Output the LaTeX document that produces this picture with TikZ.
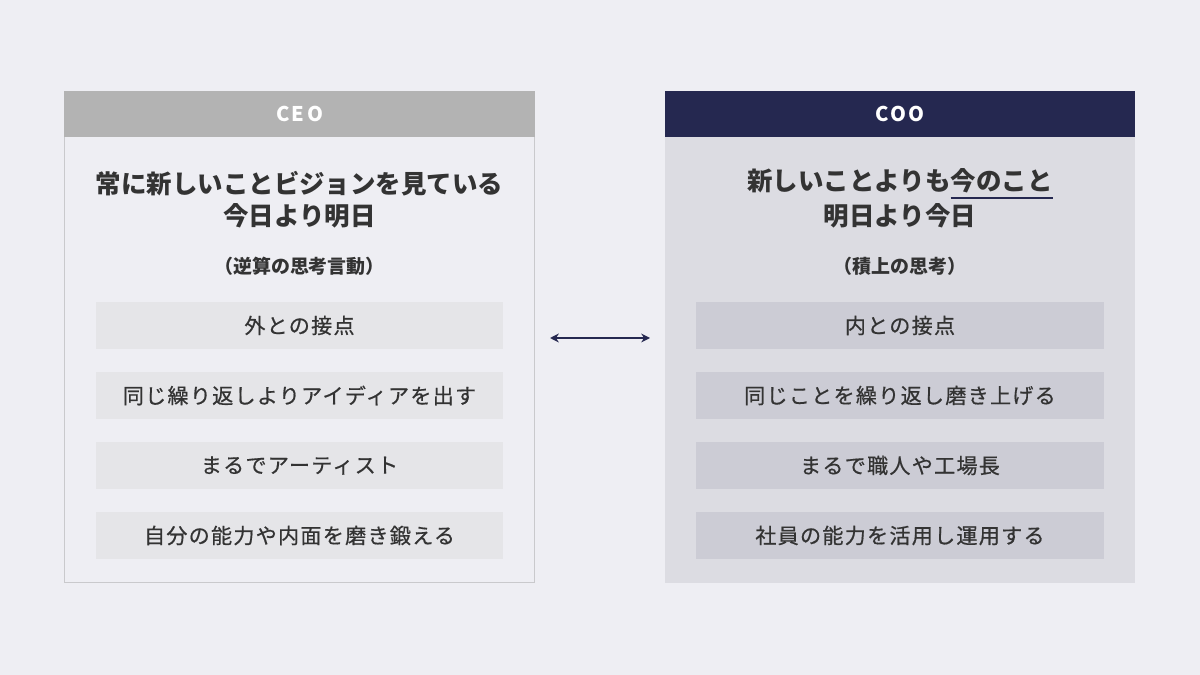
\documentclass[tikz,border=0pt]{standalone}
\usepackage{fontspec}
\setmainfont{Noto Sans CJK JP}
\newfontfamily\headfont[LetterSpace=12]{Noto Sans CJK JP}
\newfontfamily\itemfont[LetterSpace=6,FakeBold=0.6]{Noto Sans CJK JP}
\usetikzlibrary{arrows.meta}
\usetikzlibrary{positioning}

\definecolor{pagebg}{HTML}{EEEEF3}
\definecolor{inkgray}{HTML}{333333}
\definecolor{ceogray}{HTML}{B3B3B3}
\definecolor{ceoline}{HTML}{C9C9CC}
\definecolor{ceoitem}{HTML}{E5E5E8}
\definecolor{coonavy}{HTML}{252850}
\definecolor{coobody}{HTML}{DCDCE2}
\definecolor{cooitem}{HTML}{CCCCD5}

\newcommand\markline[1]{\setbox0\hbox{#1}\rlap{\color{coonavy}\rule[-5pt]{\wd0}{1.2pt}}\box0}

\tikzset{
  panel/.style={rectangle,minimum width=9.42cm,minimum height=9.84cm,inner sep=0pt},
  header/.style={rectangle,minimum width=9.42cm,minimum height=0.92cm,inner sep=0pt,
    text=white,font=\headfont\bfseries\fontsize{11.5}{12}\selectfont},
  title/.style={text=inkgray,font=\bfseries\fontsize{14.5}{16}\selectfont,inner sep=0pt},
  subtitle/.style={text=inkgray,font=\bfseries\fontsize{10.8}{12}\selectfont,inner sep=0pt},
  itembox/.style={rectangle,minimum width=8.16cm,minimum height=0.94cm,inner sep=0pt,
    text=inkgray,font=\itemfont\fontsize{12}{13}\selectfont},
  link/.style={draw=coonavy,line width=1.1pt,{Stealth[length=5pt,width=5pt]}-{Stealth[length=5pt,width=5pt]}}
}

\begin{document}
\begin{tikzpicture}[x=0.02cm,y=-0.02cm]

  \fill [pagebg] (0,0) rectangle (1200,675);

  % CEO side
  \node [panel,fill=pagebg,draw=ceoline,line width=0.6pt] (ceo) at (299.5,337) {};
  \node [header,fill=ceogray,anchor=north] (ceohead) at (ceo.north) {CEO};
  \node [title] (ceot1) at (299.5,184) {常に新しいことビジョンを見ている};
  \node [title] (ceot2) at (299.5,216) {今日より明日};
  \node [subtitle] (ceosub) at (299.5,266) {（逆算の思考言動）};
  \foreach \txt [count=\i] in {外との接点,同じ繰り返しよりアイディアを出す,まるでアーティスト,自分の能力や内面を磨き鍛える}
    \node [itembox,fill=ceoitem] (ceoitem\i) at (299.5,{325.5+70*(\i-1)}) {\txt};

  % COO side
  \node [panel,fill=coobody] (coo) at (900,337) {};
  \node [header,fill=coonavy,anchor=north] (coohead) at (coo.north) {COO};
  \node [title] (coot1) at (900,184) {新しいことよりも\markline{今のこと}};
  \node [title] (coot2) at (900,216) {明日より今日};
  \node [subtitle] (coosub) at (900,266) {（積上の思考）};
  \foreach \txt [count=\i] in {内との接点,同じことを繰り返し磨き上げる,まるで職人や工場長,社員の能力を活用し運用する}
    \node [itembox,fill=cooitem] (cooitem\i) at (900,{325.5+70*(\i-1)}) {\txt};

  % link between the two roles
  \coordinate (linkL) at (550,338);
  \coordinate (linkR) at (650,338);
  \draw [link] (linkL) -- (linkR);

\end{tikzpicture}
\end{document}
